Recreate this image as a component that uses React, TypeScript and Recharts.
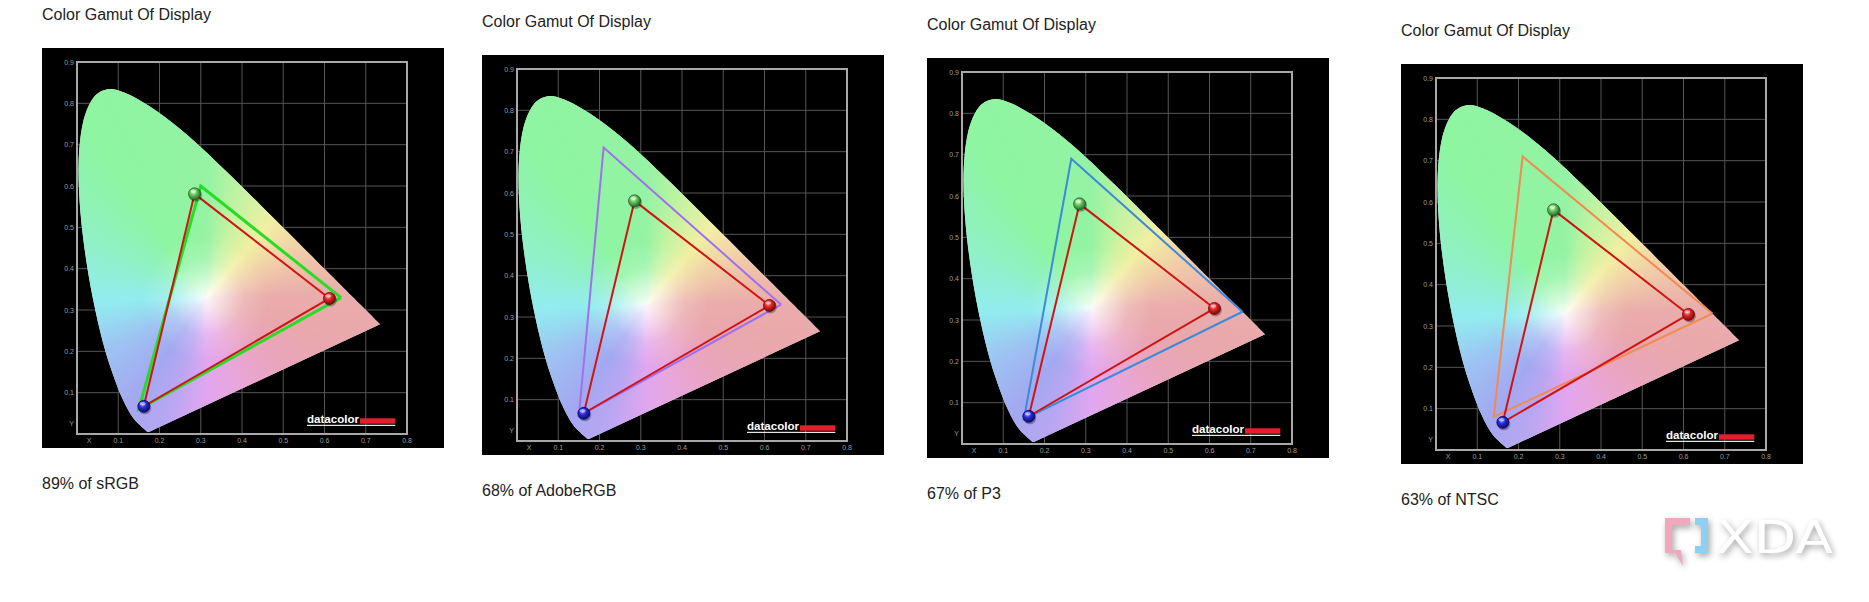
import React from "react";
import { ScatterChart, Scatter, XAxis, YAxis, CartesianGrid, ReferenceArea } from "recharts";

// CIE 1931 spectral locus (380..700 nm)
const locusX = [0.1741, 0.1738, 0.1733, 0.1726, 0.1714, 0.1689, 0.1644, 0.1566, 0.144, 0.1355, 0.1241, 0.1096, 0.0913, 0.0687, 0.0454, 0.0235, 0.0082, 0.0039, 0.0139, 0.0389, 0.0743, 0.1142, 0.1547, 0.1929, 0.2296, 0.2658, 0.3016, 0.3373, 0.3731, 0.4087, 0.4441, 0.4788, 0.5125, 0.5448, 0.5752, 0.6029, 0.627, 0.6658, 0.6915, 0.7079, 0.719, 0.726, 0.7347];
const locusY = [0.005, 0.0049, 0.0048, 0.0048, 0.0051, 0.0069, 0.0109, 0.0177, 0.0297, 0.0399, 0.0578, 0.0868, 0.1327, 0.2007, 0.295, 0.4127, 0.5384, 0.6548, 0.7502, 0.812, 0.8338, 0.8262, 0.8059, 0.7816, 0.7543, 0.7243, 0.6923, 0.6589, 0.6245, 0.5896, 0.5547, 0.5202, 0.4866, 0.4544, 0.4242, 0.3965, 0.3725, 0.334, 0.3083, 0.292, 0.2809, 0.274, 0.2653];
const whitePoint = [{ x: 0.3127, y: 0.329 }];

// measured display primaries (R, G, B)
const measuredNames = ["R", "G", "B"];
const measuredX = [0.612, 0.285, 0.162];
const measuredY = [0.328, 0.581, 0.067];

// reference gamuts (R, G, B)
const refNames = ["sRGB", "AdobeRGB", "P3", "NTSC"];
const refX = [
  [0.64, 0.3, 0.15],
  [0.64, 0.21, 0.15],
  [0.68, 0.265, 0.15],
  [0.67, 0.21, 0.14],
];
const refY = [
  [0.33, 0.6, 0.06],
  [0.33, 0.71, 0.06],
  [0.32, 0.69, 0.06],
  [0.33, 0.71, 0.08],
];
const coverage = [89, 68, 67, 63];

const xTicks = [0, 0.1, 0.2, 0.3, 0.4, 0.5, 0.6, 0.7, 0.8];
const yTicks = [0, 0.1, 0.2, 0.3, 0.4, 0.5, 0.6, 0.7, 0.8, 0.9];

const refColors = ["#25dd25", "#a070ee", "#3d8bd8", "#f28a52"];
const refWidths = [3, 2, 2, 2];
const layout = [
  { left: 42, top: 48 },
  { left: 482, top: 55 },
  { left: 927, top: 58 },
  { left: 1401, top: 64 },
];

const FONT = "'Liberation Sans', Arial, sans-serif";
const CONIC =
  "conic-gradient(from 0deg at 50% 50%, #94f3a4 0deg, #c4f3a2 18deg, #f1efa3 40deg, #f1cfa8 62deg, #eaadab 88deg, #e9a7ad 110deg, #eaa5bf 135deg, #e8a6da 160deg, #e1a6f0 180deg, #b9a6f2 198deg, #a3a8f1 215deg, #9dc3f2 242deg, #92ecf0 268deg, #90f0c8 295deg, #8ef5a1 325deg, #94f3a4 360deg)";

const locus = locusX.map((x, i) => ({ x, y: locusY[i] }));
const measured = measuredNames.map((name, i) => ({ name, x: measuredX[i], y: measuredY[i] }));
const closed = (pts: { x: number; y: number }[]) => [...pts, pts[0]];

const sphere: Record<string, string[]> = {
  R: ["#ffa0a0", "#de2424", "#6e0808"],
  G: ["#d8f8c8", "#62c65e", "#245a22"],
  B: ["#9a9aff", "#2a2ad6", "#08085e"],
};

const none = () => <g />;

// smooth open curve through the points (Catmull-Rom), closed by the straight purple line
const smoothPath = (pts: { x: number; y: number }[]) => {
  let d = `M${pts[0].x},${pts[0].y}`;
  for (let i = 0; i < pts.length - 1; i++) {
    const p0 = pts[i - 1] || pts[i];
    const p1 = pts[i];
    const p2 = pts[i + 1];
    const p3 = pts[i + 2] || p2;
    const c1x = p1.x + (p2.x - p0.x) / 6;
    const c1y = p1.y + (p2.y - p0.y) / 6;
    const c2x = p2.x - (p3.x - p1.x) / 6;
    const c2y = p2.y - (p3.y - p1.y) / 6;
    d += `C${c1x},${c1y} ${c2x},${c2y} ${p2.x},${p2.y}`;
  }
  return d + "Z";
};

const XTick = (p: any) => {
  const v = p.payload.value;
  return (
    <text x={p.x + (v === 0 ? 12 : 0)} y={p.y + 9} textAnchor="middle" fontSize={7} fill="#9c9c9c" fontFamily={FONT}>
      {v === 0 ? "X" : v.toFixed(1)}
    </text>
  );
};

const YTick = (p: any) => {
  const v = p.payload.value;
  return (
    <text x={p.x - 3} y={p.y + (v === 0 ? -10.5 : 0) + 2.5} textAnchor="end" fontSize={7} fill="#9c9c9c" fontFamily={FONT}>
      {v === 0 ? "Y" : v.toFixed(1)}
    </text>
  );
};

function Gamut({ k }: { k: number }) {
  const clipId = `locus-${k}`;
  const ref = refX[k].map((x, i) => ({ x, y: refY[k][i] }));

  const locusShape = (props: any) => {
    const d = smoothPath(props.points as { x: number; y: number }[]);
    return (
      <g>
        <defs>
          <clipPath id={clipId}>
            <path d={d} />
          </clipPath>
        </defs>
        <path d={d} fill="#c4ecd0" stroke="none" />
      </g>
    );
  };

  const glow = (p: any) => (
    <g clipPath={`url(#${clipId})`}>
      <foreignObject x={p.cx - 450} y={p.cy - 450} width={900} height={900}>
        <div style={{ width: 900, height: 900, background: CONIC }} />
      </foreignObject>
      <circle cx={p.cx} cy={p.cy} r={62} fill={`url(#white-${k})`} />
    </g>
  );

  const ball = (p: any) => {
    const n = p.payload.name;
    return (
      <g>
        <circle cx={p.cx + 1} cy={p.cy + 1.5} r={6.5} fill="rgba(0,0,0,0.3)" />
        <circle cx={p.cx} cy={p.cy} r={6} fill={`url(#sph-${n}-${k})`} stroke={sphere[n][2]} strokeWidth={0.8} />
        <ellipse cx={p.cx - 1.2} cy={p.cy - 2.6} rx={3} ry={1.7} fill="#fff" opacity={0.45} />
      </g>
    );
  };

  return (
    <ScatterChart width={402} height={400} margin={{ top: 14, right: 37, bottom: 0, left: 0 }}>
      <defs>
        <radialGradient id={`white-${k}`}>
          <stop offset="0%" stopColor="#fff" stopOpacity={0.9} />
          <stop offset="25%" stopColor="#fff" stopOpacity={0.6} />
          <stop offset="60%" stopColor="#fff" stopOpacity={0.18} />
          <stop offset="100%" stopColor="#fff" stopOpacity={0} />
        </radialGradient>
        {measuredNames.map((n) => (
          <radialGradient key={n} id={`sph-${n}-${k}`} cx="40%" cy="35%" r="70%">
            <stop offset="0%" stopColor={sphere[n][0]} />
            <stop offset="40%" stopColor={sphere[n][1]} />
            <stop offset="100%" stopColor={sphere[n][2]} />
          </radialGradient>
        ))}
      </defs>
      <CartesianGrid stroke="#555" strokeWidth={1} />
      <XAxis type="number" dataKey="x" domain={[0, 0.8]} ticks={xTicks} axisLine={false} tickLine={false} tickSize={0} tickMargin={0} height={14} tick={XTick} interval={0} />
      <YAxis type="number" dataKey="y" domain={[0, 0.9]} ticks={yTicks} axisLine={false} tickLine={false} tickSize={0} tickMargin={0} width={35} tick={YTick} interval={0} />
      <Scatter data={locus} line={locusShape} shape={none} isAnimationActive={false} />
      <Scatter data={whitePoint} shape={glow} isAnimationActive={false} />
      <Scatter data={closed(ref)} line={{ stroke: refColors[k], strokeWidth: refWidths[k], strokeLinejoin: "miter" }} shape={none} isAnimationActive={false} />
      <Scatter data={closed(measured)} line={{ stroke: "#d01414", strokeWidth: 2 }} shape={none} isAnimationActive={false} />
      <Scatter data={measured} shape={ball} isAnimationActive={false} />
      <ReferenceArea x1={0} x2={0.8} y1={0} y2={0.9} fill="none" fillOpacity={0} stroke="#a8a8a8" strokeWidth={2} />
    </ScatterChart>
  );
}

function DatacolorLogo() {
  return (
    <svg width={402} height={400} style={{ position: "absolute", left: 0, top: 0, pointerEvents: "none" }}>
      <text x={265} y={375.3} fontSize={11.5} fontWeight="bold" fill="#fff" fontFamily={FONT} textLength={52} lengthAdjust="spacingAndGlyphs">
        datacolor
      </text>
      <rect x={318} y={370.3} width={35.3} height={5.4} fill="#e2202c" />
      <rect x={265} y={376.8} width={88.3} height={1.1} fill="#fff" />
    </svg>
  );
}

function XdaLogo() {
  return (
    <svg width={190} height={60} style={{ position: "absolute", left: 1658, top: 510, filter: "drop-shadow(2px 3px 3px rgba(0,0,0,0.35))" }}>
      <path d="M7 8 H32 V15 H14 V40 H23 L25 56 L17 43 H7 Z" fill="#f2a8bc" />
      <path d="M37 8 H50 V43 H37 V36 H43 V15 H37 Z" fill="#8ed0f2" />
      <text x={58} y={43} fontSize={45} fontWeight="normal" fill="#fff" fontFamily="'DejaVu Sans', sans-serif" textLength={117} lengthAdjust="spacingAndGlyphs">
        XDA
      </text>
    </svg>
  );
}

export default function App() {
  return (
    <div style={{ position: "absolute", left: 0, top: 0, width: 1869, height: 602, background: "#fff", fontFamily: FONT, color: "#222", overflow: "hidden" }}>
      {layout.map((l, k) => (
        <React.Fragment key={k}>
          <div style={{ position: "absolute", left: l.left, top: l.top - 42, fontSize: 16, lineHeight: "18px", whiteSpace: "nowrap" }}>
            Color Gamut Of Display
          </div>
          <div style={{ position: "absolute", left: l.left, top: l.top, width: 402, height: 400, background: "#000" }}>
            <Gamut k={k} />
            <DatacolorLogo />
          </div>
          <div style={{ position: "absolute", left: l.left, top: l.top + 427, fontSize: 16, lineHeight: "18px", whiteSpace: "nowrap" }}>
            {coverage[k]}% of {refNames[k]}
          </div>
        </React.Fragment>
      ))}
      <XdaLogo />
    </div>
  );
}
